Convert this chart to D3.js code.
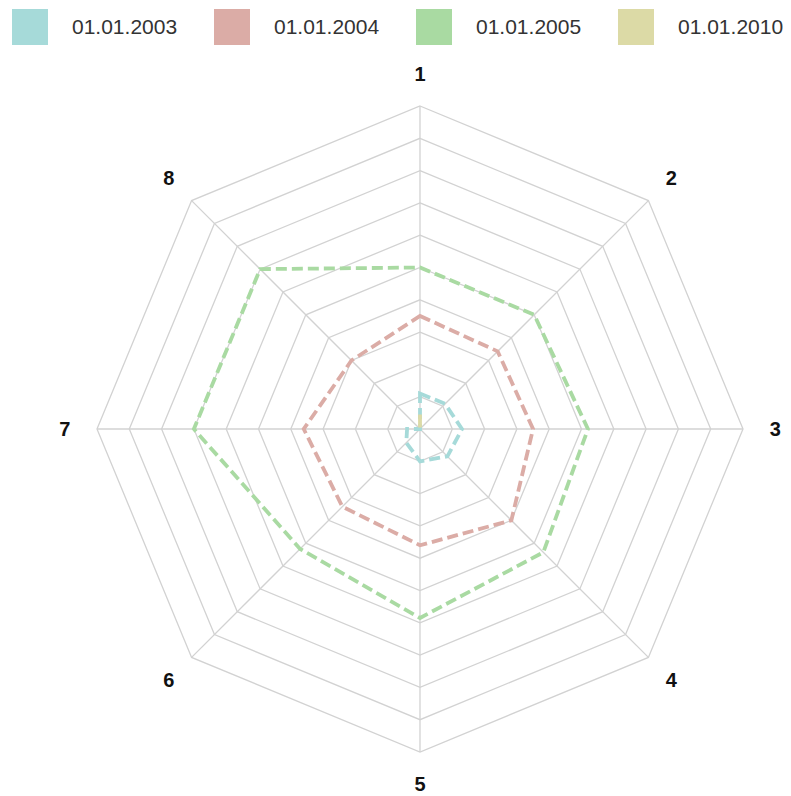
<!DOCTYPE html>
<html>
<head>
<meta charset="utf-8">
<script src="https://cdn.jsdelivr.net/npm/d3@7"></script>
<style>
  body { margin: 0; background: #fff; }
  .grid { fill: none; stroke: #d2d2d2; stroke-width: 1.3; }
  .axis-label { font-family: "Liberation Sans", Arial, sans-serif; font-weight: bold; font-size: 20px; fill: #111; }
  .legend-text { font-family: "Liberation Sans", Arial, sans-serif; font-size: 21px; fill: #333; }
  .series { fill: none; stroke-width: 3.8; stroke-dasharray: 11,5; }
</style>
</head>
<body>
<div id="chart"></div>
<script>
// Radar chart, 8 axes, 4 dates

const axes = ["1", "2", "3", "4", "5", "6", "7", "8"];
const seriesNames = ["01.01.2003", "01.01.2004", "01.01.2005", "01.01.2010"];
const colors = ["#a6dad9", "#dbaca6", "#a9daa2", "#dcdaa6"];

const values2003 = [1.1, 1.1, 1.3, 1.2, 1.0, 0.6, 0.4, 0];
const values2004 = [3.5, 3.4, 3.5, 4.0, 3.6, 3.4, 3.6, 3.0];
const values2005 = [5.0, 5.0, 5.2, 5.4, 5.85, 5.25, 7.0, 7.0];
const values2010 = [0.45, 0, 0, 0, 0, 0, 0, 0];

const gridLevels = [1, 2, 3, 4, 5, 6, 7, 8, 9, 10];

const width = 791;
const height = 796;
const cx = 420;
const cy = 429;
const radius = 323;

const svg = d3.select("#chart")
  .append("svg")
  .attr("width", width)
  .attr("height", height);

const chart = svg.append("g")
  .attr("transform", `translate(${cx}, ${cy})`);

// Scales
const rScale = d3.scaleLinear()
  .domain([0, 10])
  .range([0, radius]);

const angle = d3.scaleLinear()
  .domain([0, axes.length])
  .range([0, 2 * Math.PI]);

const pointAt = (i, v) => [
  Math.sin(angle(i)) * rScale(v),
  -Math.cos(angle(i)) * rScale(v)
];

// Grid rings
chart.selectAll(".ring")
  .data(gridLevels)
  .enter()
  .append("polygon")
  .attr("class", "grid")
  .attr("points", lvl => axes.map((a, i) => pointAt(i, lvl).join(",")).join(" "));

// Spokes
chart.selectAll(".spoke")
  .data(axes)
  .enter()
  .append("line")
  .attr("class", "grid")
  .attr("x1", 0)
  .attr("y1", 0)
  .attr("x2", (d, i) => pointAt(i, 10)[0])
  .attr("y2", (d, i) => pointAt(i, 10)[1]);

// Axis labels
chart.selectAll(".axis-label")
  .data(axes)
  .enter()
  .append("text")
  .attr("class", "axis-label")
  .attr("x", (d, i) => pointAt(i, 11.0)[0])
  .attr("y", (d, i) => pointAt(i, 11.0)[1])
  .attr("text-anchor", "middle")
  .attr("dominant-baseline", "central")
  .text(d => d);

// Series lines
const line = d3.lineRadial()
  .angle((d, i) => angle(i))
  .radius(d => rScale(d))
  .curve(d3.curveLinearClosed);

const allSeries = [values2005, values2004, values2003, values2010];
const seriesColors = [colors[2], colors[1], colors[0], colors[3]];

chart.selectAll(".series")
  .data(allSeries)
  .enter()
  .append("path")
  .attr("class", "series")
  .attr("stroke", (d, i) => seriesColors[i])
  .attr("d", line);

// Legend
const legend = svg.selectAll(".legend")
  .data(seriesNames)
  .enter()
  .append("g")
  .attr("transform", (d, i) => `translate(${12 + i * 202}, 9)`);

legend.append("rect")
  .attr("width", 36)
  .attr("height", 36)
  .attr("fill", (d, i) => colors[i]);

legend.append("text")
  .attr("class", "legend-text")
  .attr("x", 60)
  .attr("y", 25)
  .text(d => d);
</script>
</body>
</html>
